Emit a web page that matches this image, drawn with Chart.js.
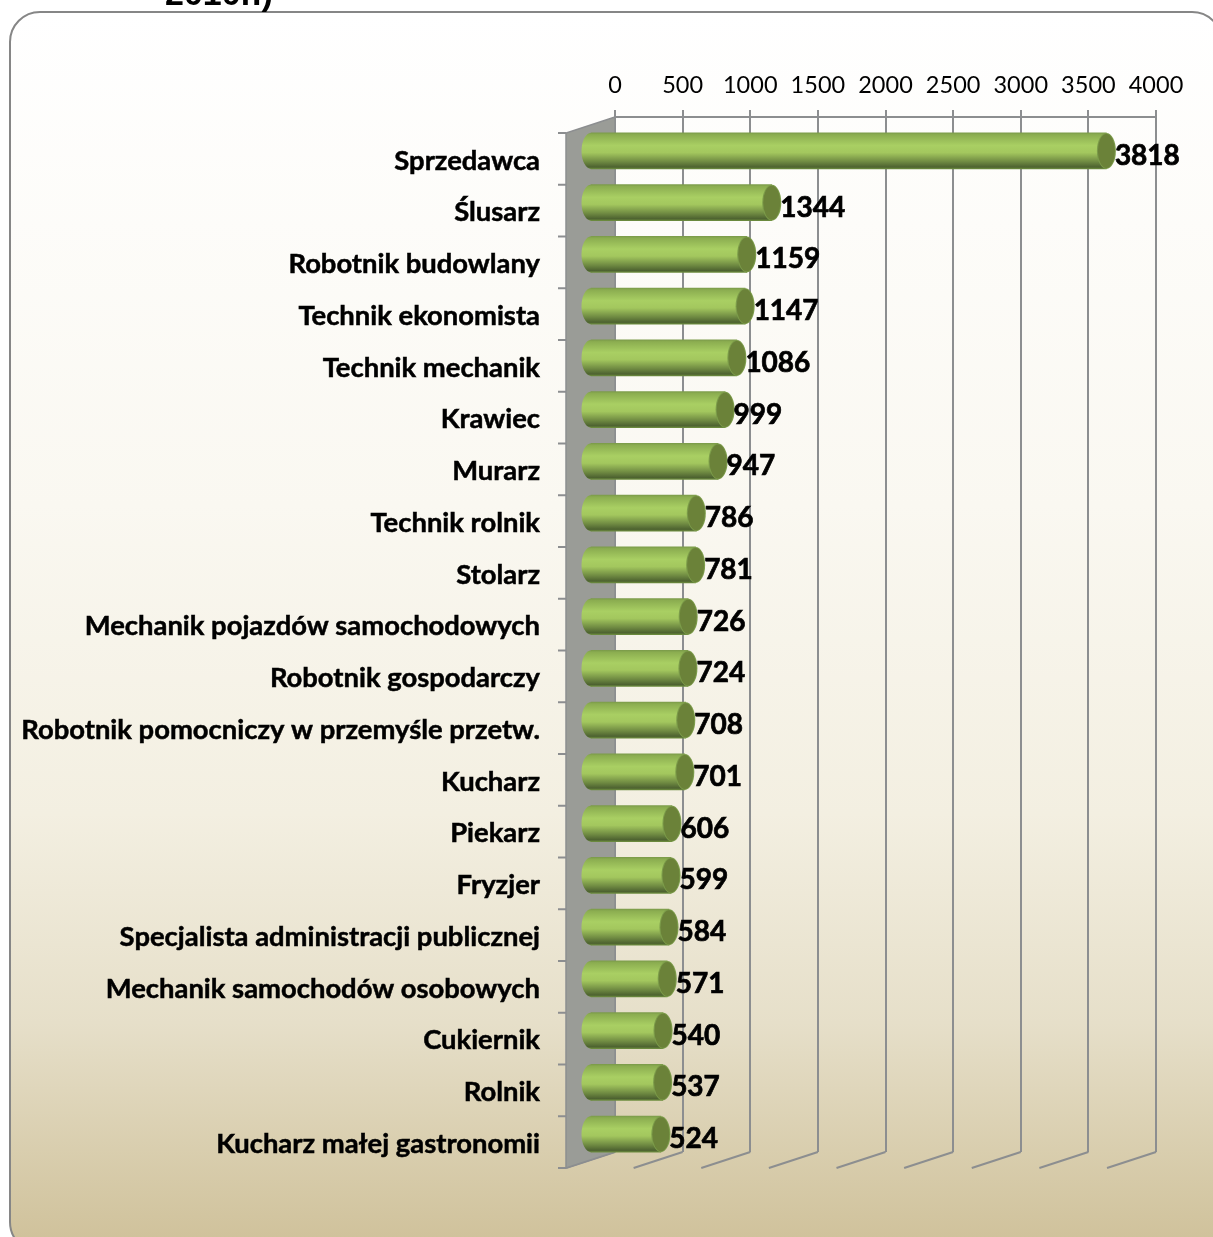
<!DOCTYPE html>
<html>
<head>
<meta charset="utf-8">
<style>
html, body { margin: 0; padding: 0; background: #fff; overflow: hidden; }
canvas { display: block; }
</style>
<script src="https://cdn.jsdelivr.net/npm/chart.js@4"></script>
</head>
<body>
<canvas id="chart" width="1213" height="1237"></canvas>
<script>
const categories = [
    "Sprzedawca", "Ślusarz", "Robotnik budowlany", "Technik ekonomista", "Technik mechanik",
    "Krawiec", "Murarz", "Technik rolnik", "Stolarz", "Mechanik pojazdów samochodowych",
    "Robotnik gospodarczy", "Robotnik pomocniczy w przemyśle przetw.", "Kucharz", "Piekarz", "Fryzjer",
    "Specjalista administracji publicznej", "Mechanik samochodów osobowych", "Cukiernik", "Rolnik",
    "Kucharz małej gastronomii"
];
const values = [3818, 1344, 1159, 1147, 1086, 999, 947, 786, 781, 726, 724, 708, 701, 606, 599, 584, 571, 540, 537, 524];
const titleTail = "2010r.)";

const gridGray = "#8c8e90";
// the fake 3d depth: bars sit half way between back plane and front of the wall
const barShift = { x: -25, y: 8 };
const wallShift = { x: -49, y: 16 };
const capRx = 9.5;
const barHalf = 18;

function barGradient(ctx, y) {
    const g = ctx.createLinearGradient(0, y - barHalf, 0, y + barHalf);
    g.addColorStop(0, "#7c9c4a");
    g.addColorStop(0.05, "#8bad50");
    g.addColorStop(0.35, "#a9cf63");
    g.addColorStop(0.55, "#a3c75e");
    g.addColorStop(0.8, "#6f8a42");
    g.addColorStop(0.95, "#4d6230");
    g.addColorStop(1, "#6c8c3e");
    return g;
}

const scene = {
    id: "scene",
    beforeDraw(chart) {
        const ctx = chart.ctx;
        ctx.save();
        const g = ctx.createLinearGradient(0, 12, 0, 1245);
        g.addColorStop(0, "#ffffff");
        g.addColorStop(0.4, "#faf8f1");
        g.addColorStop(0.65, "#f3efe1");
        g.addColorStop(0.82, "#e6dfc9");
        g.addColorStop(1, "#cfc19a");
        ctx.beginPath();
        ctx.roundRect(10, 12, 1212, 1240, 30);
        ctx.fillStyle = g;
        ctx.fill();
        ctx.strokeStyle = "#868686";
        ctx.lineWidth = 2;
        ctx.stroke();
        ctx.fillStyle = "#000";
        ctx.font = "bold 34px 'Liberation Sans'";
        ctx.textAlign = "left";
        ctx.textBaseline = "alphabetic";
        ctx.fillText(titleTail, 165, 5);
        ctx.restore();
    },
    beforeDatasetsDraw(chart) {
        const ctx = chart.ctx;
        const { top, bottom } = chart.chartArea;
        const xs = chart.scales.x;
        const ys = chart.scales.y;
        const x0 = xs.getPixelForValue(0);
        ctx.save();
        ctx.strokeStyle = gridGray;
        ctx.lineWidth = 2;
        // floor lines
        xs.ticks.forEach((t) => {
            const x = xs.getPixelForValue(t.value);
            ctx.beginPath();
            ctx.moveTo(x, bottom);
            ctx.lineTo(x + wallShift.x, bottom + wallShift.y);
            ctx.stroke();
        });
        // left wall
        ctx.beginPath();
        ctx.moveTo(x0, top);
        ctx.lineTo(x0 + wallShift.x, top + wallShift.y);
        ctx.lineTo(x0 + wallShift.x, bottom + wallShift.y);
        ctx.lineTo(x0, bottom);
        ctx.closePath();
        ctx.fillStyle = "#9a9c97";
        ctx.fill();
        ctx.lineWidth = 1.5;
        ctx.stroke();
        // category tick marks on the front edge of the wall
        const band = (bottom - top) / categories.length;
        ctx.lineWidth = 2;
        for (let i = 0; i <= categories.length; i++) {
            const y = (i < categories.length ? ys.getPixelForValue(i) - band / 2 : bottom) + wallShift.y;
            ctx.beginPath();
            ctx.moveTo(x0 + wallShift.x, y);
            ctx.lineTo(x0 + wallShift.x - 8, y);
            ctx.stroke();
        }
        ctx.restore();
    },
    beforeDatasetDraw(chart, args) {
        const ctx = chart.ctx;
        ctx.save();
        ctx.translate(barShift.x, barShift.y);
        // round back ends of the cylinders
        args.meta.data.forEach((bar) => {
            ctx.beginPath();
            ctx.ellipse(bar.base, bar.y, capRx, barHalf, 0, 0, Math.PI * 2);
            ctx.fillStyle = barGradient(ctx, bar.y);
            ctx.fill();
        });
    },
    afterDatasetDraw(chart, args) {
        const ctx = chart.ctx;
        args.meta.data.forEach((bar) => {
            ctx.beginPath();
            ctx.ellipse(bar.x, bar.y, capRx, barHalf, 0, 0, Math.PI * 2);
            ctx.fillStyle = "#7c9c4a";
            ctx.fill();
            ctx.beginPath();
            ctx.ellipse(bar.x, bar.y, capRx - 1, barHalf - 1, 0, 0, Math.PI * 2);
            ctx.fillStyle = "#6b8239";
            ctx.fill();
        });
        ctx.restore();
    },
    afterDatasetsDraw(chart) {
        const ctx = chart.ctx;
        const meta = chart.getDatasetMeta(0);
        ctx.save();
        ctx.fillStyle = "#000";
        ctx.strokeStyle = "#000";
        ctx.lineWidth = 0.7;
        ctx.font = "bold 28px Lato";
        ctx.textAlign = "left";
        ctx.textBaseline = "middle";
        meta.data.forEach((bar, i) => {
            const x = bar.x + barShift.x + capRx - 1;
            const y = bar.y + barShift.y + 5;
            ctx.fillText(String(values[i]), x, y);
            ctx.strokeText(String(values[i]), x, y);
        });
        ctx.restore();
    },
};

new Chart(document.getElementById("chart"), {
    type: "bar",
    data: {
        labels: categories,
        datasets: [
            {
                data: values,
                clip: false,
                barThickness: barHalf * 2,
                borderWidth: 0,
                backgroundColor: (c) => {
                    const y = c.chart.scales.y ? c.chart.scales.y.getPixelForValue(c.dataIndex) : NaN;
                    return Number.isFinite(y) ? barGradient(c.chart.ctx, y) : "#a3c75e";
                },
            },
        ],
    },
    options: {
        indexAxis: "y",
        responsive: false,
        animation: false,
        layout: { padding: { left: 0, right: 57, top: 0, bottom: 85 } },
        plugins: {
            legend: { display: false },
            tooltip: { enabled: false },
        },
        scales: {
            x: {
                position: "top",
                min: 0,
                max: 4000,
                afterFit: (s) => { s.height = 117; },
                grid: { color: gridGray, lineWidth: 2, tickLength: 7, tickColor: gridGray },
                border: { display: true, color: gridGray, width: 2 },
                ticks: {
                    stepSize: 500,
                    maxRotation: 0,
                    padding: 10,
                    color: "#000",
                    font: { family: "Lato", size: 23.5 },
                    callback: (v) => String(v),
                },
            },
            y: {
                afterFit: (s) => { s.width = 615; s.paddingBottom = 0; s.paddingTop = 0; },
                grid: { display: false, drawTicks: false },
                border: { display: false },
                ticks: {
                    autoSkip: false,
                    maxRotation: 0,
                    minRotation: 0,
                    padding: 75,
                    labelOffset: 18,
                    color: "#000",
                    textStrokeColor: "#000",
                    textStrokeWidth: 0.5,
                    font: { family: "Lato", size: 27.4, weight: "bold" },
                },
            },
        },
    },
    plugins: [scene],
});
</script>
</body>
</html>
